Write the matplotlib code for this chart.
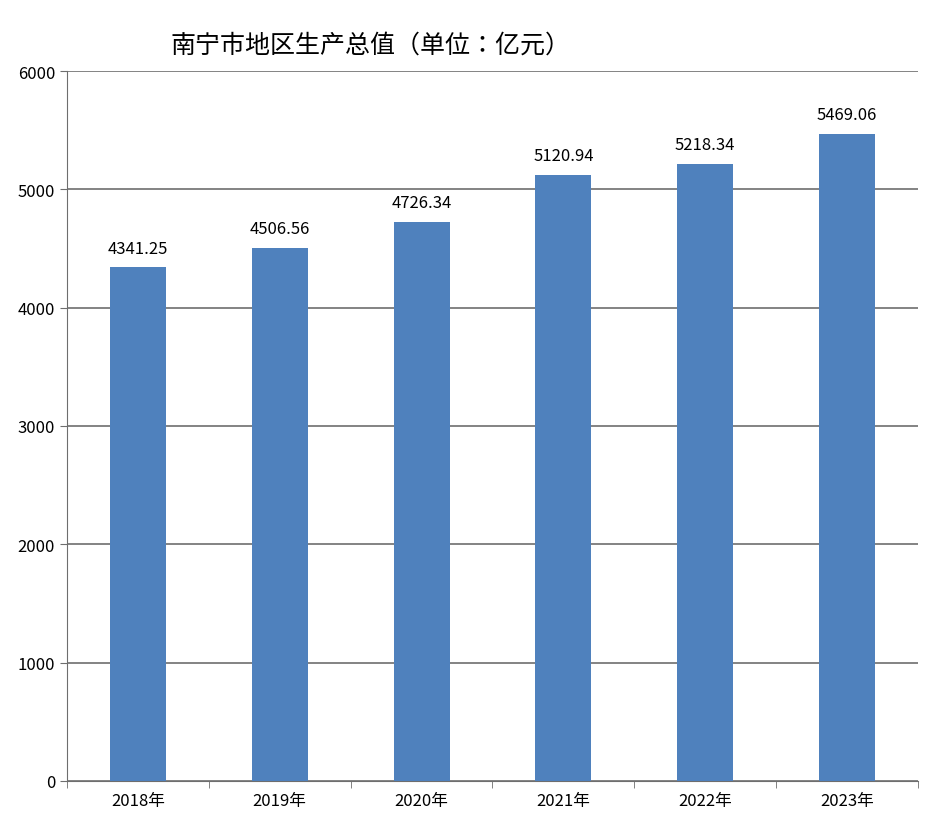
import matplotlib.pyplot as plt
from matplotlib import font_manager
import numpy as np

# locate a CJK font file so the Chinese glyphs render
cjk = None
for f in font_manager.findSystemFonts():
    if 'NotoSansCJK' in f.replace(' ', '') or 'NotoSansSC' in f:
        font_manager.fontManager.addfont(f)
        cjk = font_manager.FontProperties(fname=f).get_name()
        break
plt.rcParams['font.family'] = ['DejaVu Sans'] if cjk is None else [cjk, 'DejaVu Sans']

years = ['2018年', '2019年', '2020年', '2021年', '2022年', '2023年']
gdp = [4341.25, 4506.56, 4726.34, 5120.94, 5218.34, 5469.06]
yticks = [0, 1000, 2000, 3000, 4000, 5000, 6000]

fig = plt.figure(figsize=(9.25, 8.28), dpi=100)
ax = fig.add_axes([0.0724, 0.0556, 0.92, 0.8574])

x = np.arange(len(years))
ax.bar(x, gdp, width=0.395, color='#4F81BD', zorder=3)
for xi, v in zip(x, gdp):
    ax.text(xi, v + 90, f'{v:.2f}', ha='center', va='bottom', fontsize=12)

ax.set_xlim(-0.5, len(years) - 0.5)
ax.set_ylim(0, 6000)
ax.set_yticks(yticks)
ax.set_yticklabels([str(t) for t in yticks], fontsize=12)
ax.set_xticks(x)
ax.set_xticklabels(years, fontsize=12)
ax.tick_params(axis='x', length=0, pad=8)
ax.set_xticks(np.arange(-0.5, len(years)), minor=True)
ax.tick_params(axis='x', which='minor', length=5, color='#6e6e6e')
ax.tick_params(axis='y', length=5, color='#6e6e6e')
ax.grid(axis='y', color='#6e6e6e', linewidth=1.2, zorder=0)
for s in ['top', 'right']:
    ax.spines[s].set_visible(False)
for s in ['left', 'bottom']:
    ax.spines[s].set_color('#6e6e6e')

fig.text(0.40, 0.945, '南宁市地区生产总值（单位：亿元）', ha='center', va='center', fontsize=18)

fig.savefig('out.png')
